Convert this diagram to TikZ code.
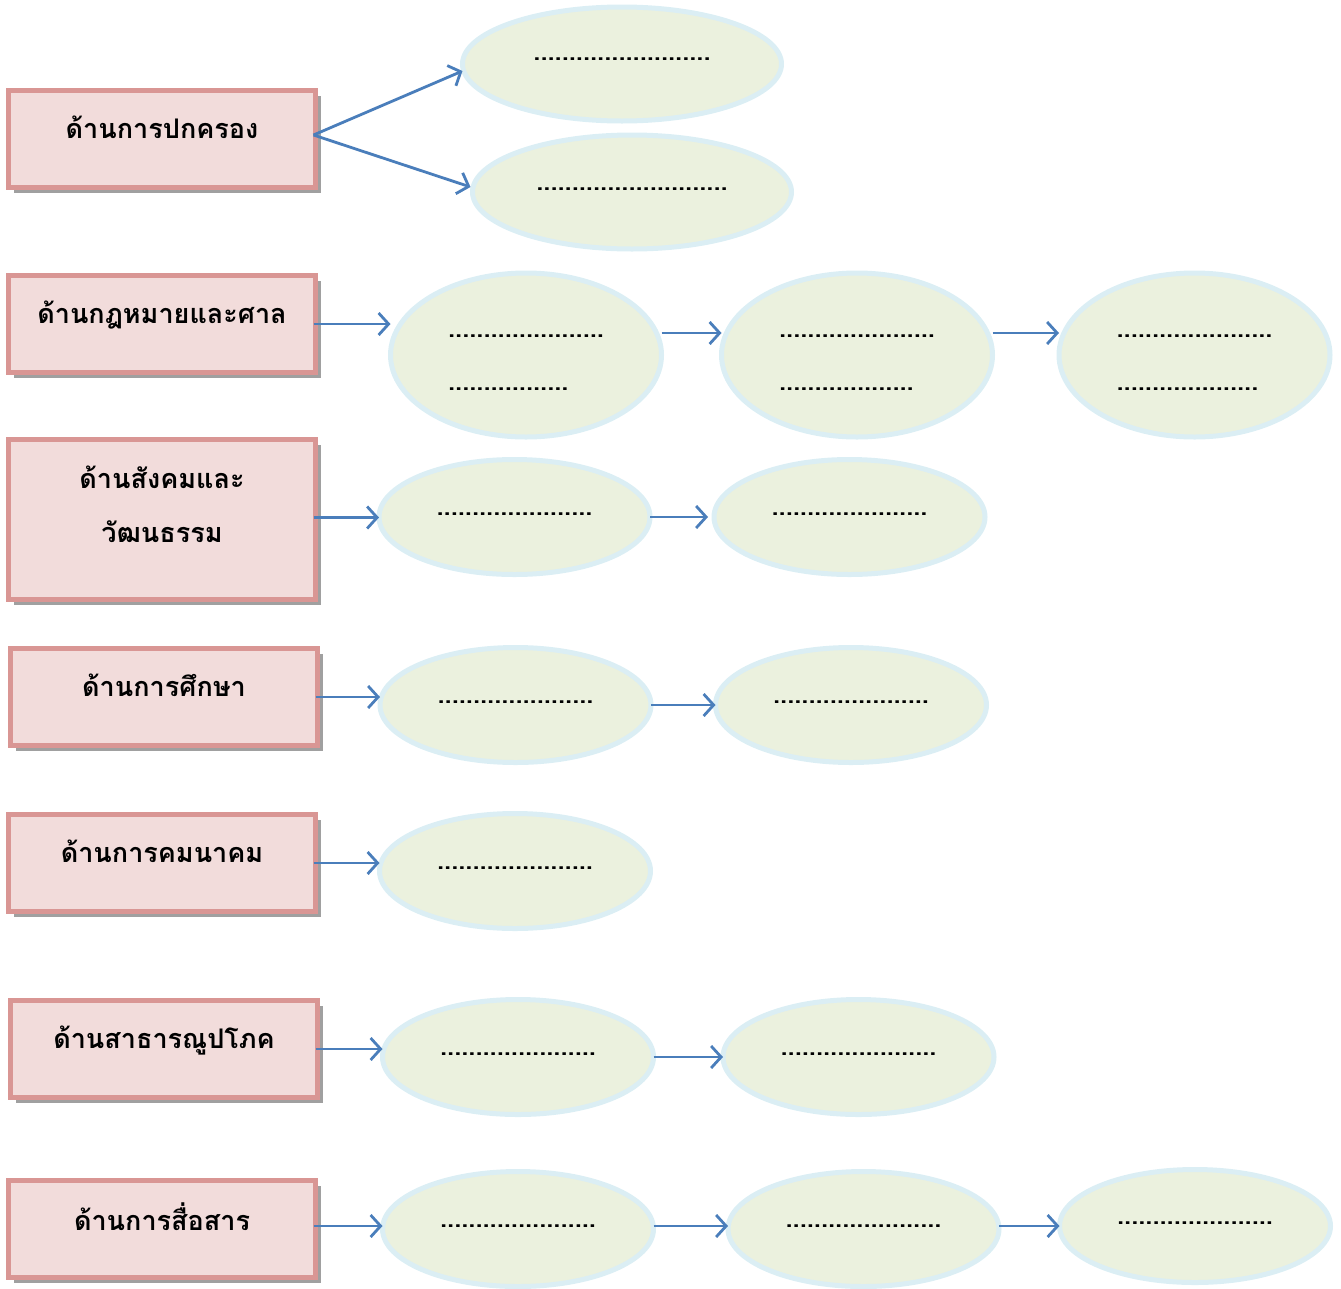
\documentclass[tikz,border=0pt]{standalone}
\usepackage{fontspec}
\newfontfamily\thaifont[Script=Thai]{Loma}
\usetikzlibrary{shapes.geometric,arrows.meta,shadows}
\definecolor{boxfill}{HTML}{F2DCDB}
\definecolor{boxline}{HTML}{D99694}
\definecolor{ellfill}{HTML}{EBF1DE}
\definecolor{ellline}{HTML}{DBEEF4}
\definecolor{arrcol}{HTML}{4A7EBB}
\definecolor{shadowcol}{HTML}{A0A0A0}
\tikzset{
  topic/.style={draw=boxline, line width=5pt, fill=boxfill, rectangle,
    minimum width=307pt, minimum height=97pt, inner sep=0pt, outer sep=0pt,
    font=\thaifont\bfseries\fontsize{27}{32}\selectfont, align=center, text depth=24pt,
    drop shadow={shadow xshift=5pt, shadow yshift=-5pt, fill=shadowcol, opacity=1}},
  bubble/.style={draw=ellline, line width=5pt, fill=ellfill, ellipse,
    minimum width=271pt, minimum height=115pt, inner sep=0pt, outer sep=0pt,
    font=\thaifont\bfseries\fontsize{25.5}{30}\selectfont},
  bigbubble/.style={bubble, minimum height=164pt, align=left, text height=70pt, text depth=0pt},
  wide/.style={bubble, minimum width=319pt, minimum height=114pt},
  up6/.style={text height=3pt, text depth=7pt},
  up9/.style={text height=3pt, text depth=11pt},
  arr/.style={draw=arrcol, line width=2.8pt, -{Straight Barb[length=10pt,width=22pt,line width=2.8pt]}}
}
\newcommand{\dotsn}[1]{\foreach \i in {1,...,#1}{.}}
\begin{document}
\begin{tikzpicture}[x=1pt,y=-1pt]
\useasboundingbox (0,0) rectangle (1341,1288);
% topic boxes
\node[topic] (b1) at (162,139) {ด้านการปกครอง};
\node[topic] (b2) at (162,324) {ด้านกฎหมายและศาล};
\node[topic, minimum height=160pt, text depth=30pt] (b3) at (162,519.5) {ด้านสังคมและ\\[22pt]วัฒนธรรม};
\node[topic] (b4) at (164,697) {ด้านการศึกษา};
\node[topic] (b5) at (162,863) {ด้านการคมนาคม};
\node[topic] (b6) at (164,1049) {ด้านสาธารณูปโภค};
\node[topic] (b7) at (162,1229) {ด้านการสื่อสาร};
% bubbles
\node[wide, up9] (e11) at (622,64) {\dotsn{25}};
\node[wide, up6] (e12) at (632,192) {\dotsn{27}};
\node[bigbubble] (e21) at (526,355) {\dotsn{22}\\[23pt]\dotsn{17}};
\node[bigbubble] (e22) at (857,355) {\dotsn{22}\\[23pt]\dotsn{19}};
\node[bigbubble] (e23) at (1194.5,355) {\dotsn{22}\\[23pt]\dotsn{20}};
\node[bubble, up6] (e31) at (514.5,517) {\dotsn{22}};
\node[bubble, up6] (e32) at (849.5,517) {\dotsn{22}};
\node[bubble, up6] (e41) at (515.5,705) {\dotsn{22}};
\node[bubble, up6] (e42) at (851,705) {\dotsn{22}};
\node[bubble, up6] (e51) at (515,871) {\dotsn{22}};
\node[bubble, up6] (e61) at (518,1057) {\dotsn{22}};
\node[bubble, up6] (e62) at (858.5,1057) {\dotsn{22}};
\node[bubble, up6] (e71) at (518,1229) {\dotsn{22}};
\node[bubble, up6] (e72) at (863.5,1229) {\dotsn{22}};
\node[bubble, up6, minimum height=113pt] (e73) at (1195,1226) {\dotsn{22}};
% connectors
\draw[arr] ([yshift=4pt,xshift=-2pt]b1.east) -- ([yshift=-7pt]e11.west);
\draw[arr] ([yshift=4pt,xshift=-2pt]b1.east) -- ([yshift=5pt,xshift=-2pt]e12.west);
\draw[arr] ([xshift=-2pt]b2.east) -- (b2.east -| e21.west);
\draw[arr] ([yshift=22pt]e21.east) -- ([yshift=22pt]e22.west);
\draw[arr] ([yshift=22pt]e22.east) -- ([yshift=22pt]e23.west);
\draw[arr] ([xshift=-2pt,yshift=2pt]b3.east) -- ([yshift=2pt]b3.east -| e31.west);
\draw[arr] (e31.east) -- ([xshift=-6pt]e32.west);
\draw[arr] ([xshift=-2pt]b4.east) -- (b4.east -| e41.west);
\draw[arr] (e41.east) -- (e42.west);
\draw[arr] ([xshift=-2pt]b5.east) -- (b5.east -| e51.west);
\draw[arr] ([xshift=-2pt]b6.east) -- (b6.east -| e61.west);
\draw[arr] (e61.east) -- (e62.west);
\draw[arr] ([xshift=-2pt,yshift=3pt]b7.east) -- ([yshift=3pt]b7.east -| e71.west);
\draw[arr] ([yshift=3pt]e71.east) -- ([yshift=3pt]e71.east -| e72.west);
\draw[arr] ([yshift=3pt]e72.east) -- ([yshift=3pt]e72.east -| e73.west);
\end{tikzpicture}
\end{document}
